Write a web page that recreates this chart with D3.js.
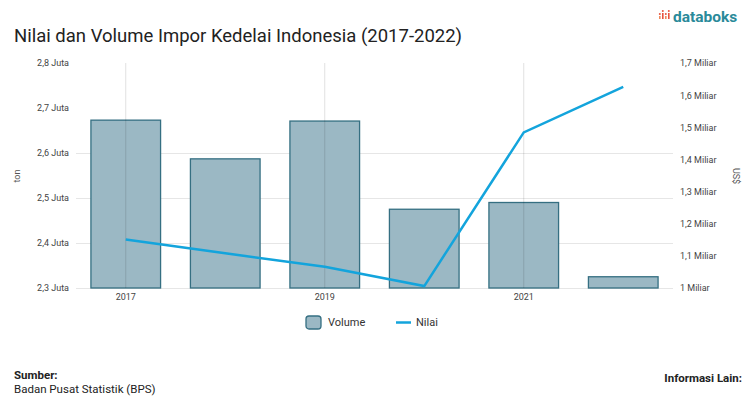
<!DOCTYPE html>
<meta charset="utf-8">
<script src="https://cdn.jsdelivr.net/npm/d3@7"></script>
<style>
body { margin: 0; background: #fff; }
text { font-family: Roboto, "Noto Sans", sans-serif; }
.tick text { fill: #444; font-size: 9px; }
</style>
<body>
<script>

// data
var years = ["2017", "2018", "2019", "2020", "2021", "2022"];
var volume = [2673000, 2587000, 2671000, 2475000, 2490000, 2325000]; // ton
var nilai = [1.151e9, 1.108e9, 1.066e9, 1.006e9, 1.484e9, 1.626e9];   // US$
var leftTicks = [2.3e6, 2.4e6, 2.5e6, 2.6e6, 2.7e6, 2.8e6];
var rightTicks = [1.0e9, 1.1e9, 1.2e9, 1.3e9, 1.4e9, 1.5e9, 1.6e9, 1.7e9];
var xLabels = ["2017", "2019", "2021"];

var width = 752,
    height = 398;

var svg = d3.select("body").append("svg")
    .attr("width", width)
    .attr("height", height);

var pLeft = 76, pRight = 673, pTop = 63, pBottom = 288;

var x = d3.scaleBand().domain(years).range([pLeft, pRight])
    .paddingInner(0.3).paddingOuter(0.15);
var yL = d3.scaleLinear().domain([2.3e6, 2.8e6]).range([pBottom, pTop]);
var yR = d3.scaleLinear().domain([1.0e9, 1.7e9]).range([pBottom, pTop]);

function fmt(v, unit) {
  var s = String(+v.toFixed(1)).replace(".", ",");
  return s + " " + unit;
}

// title
svg.append("text")
    .attr("x", 14).attr("y", 42)
    .style("font-size", "18.5px")
    .style("fill", "#222")
    .text("Nilai dan Volume Impor Kedelai Indonesia (2017-2022)");

// logo
var logo = svg.append("g").attr("transform", "translate(659,22)");
[[0, -6, 3], [3, -9, 6], [6, -6, 3], [9, -9, 6]].forEach(function(b, i) {
  logo.append("rect").attr("x", b[0]).attr("y", b[1]).attr("width", 1.6).attr("height", b[2])
      .attr("fill", i % 2 ? "#e8543f" : "#f08a5d");
  logo.append("circle").attr("cx", b[0] + 0.8).attr("cy", b[1] - 2).attr("r", 1)
      .attr("fill", "#e8543f");
});
logo.append("text")
    .attr("x", 14).attr("y", 0)
    .style("font-size", "15.5px")
    .style("font-weight", "bold")
    .style("fill", "#2a8a9a")
    .text("databoks");

// grid (horizontal)
svg.append("g").selectAll("line")
    .data(leftTicks.filter(function(d) { return d <= 2.6e6; }))
    .enter().append("line")
    .attr("x1", pLeft).attr("x2", pRight)
    .attr("y1", function(d) { return yL(d) + 0.5; })
    .attr("y2", function(d) { return yL(d) + 0.5; })
    .attr("stroke", "#e6e6e6");

// bars
svg.append("g").selectAll("rect")
    .data(volume)
    .enter().append("rect")
    .attr("x", function(d, i) { return x(years[i]); })
    .attr("y", function(d) { return yL(d); })
    .attr("width", x.bandwidth())
    .attr("height", function(d) { return pBottom - yL(d); })
    .attr("fill", "#9bb8c4")
    .attr("stroke", "#356f82")
    .attr("stroke-width", 1.3);

// grid (vertical)
svg.append("g").selectAll("line")
    .data(xLabels)
    .enter().append("line")
    .attr("x1", function(d) { return x(d) + x.bandwidth() / 2; })
    .attr("x2", function(d) { return x(d) + x.bandwidth() / 2; })
    .attr("y1", pTop).attr("y2", pBottom)
    .attr("stroke", "#000").attr("stroke-opacity", 0.12);

// line
var line = d3.line()
    .x(function(d, i) { return x(years[i]) + x.bandwidth() / 2; })
    .y(function(d) { return yR(d); });

svg.append("path")
    .datum(nilai)
    .attr("d", line)
    .attr("fill", "none")
    .attr("stroke", "#13a4dc")
    .attr("stroke-width", 2.5);

// axes
var axL = svg.append("g")
    .attr("transform", "translate(" + (pLeft - 4) + ",0)")
    .call(d3.axisLeft(yL).tickValues(leftTicks).tickSize(0)
      .tickFormat(function(d) { return fmt(d / 1e6, "Juta"); }));
axL.select(".domain").remove();

var axR = svg.append("g")
    .attr("transform", "translate(" + (pRight + 4) + ",0)")
    .call(d3.axisRight(yR).tickValues(rightTicks).tickSize(0)
      .tickFormat(function(d) { return fmt(d / 1e9, "Miliar"); }));
axR.select(".domain").remove();

var axX = svg.append("g")
    .attr("transform", "translate(0," + pBottom + ")")
    .call(d3.axisBottom(x).tickValues(xLabels).tickSize(0).tickPadding(6));
axX.select(".domain").remove();

// axis titles
svg.append("text")
    .attr("transform", "translate(20,176) rotate(-90)")
    .style("text-anchor", "middle")
    .style("font-size", "9px").style("fill", "#555")
    .text("ton");

svg.append("text")
    .attr("transform", "translate(733,176) rotate(90)")
    .style("text-anchor", "middle")
    .style("font-size", "9px").style("fill", "#555")
    .text("US$");

// legend
var lg = svg.append("g").attr("transform", "translate(306,322)");
lg.append("rect")
    .attr("x", 0).attr("y", -6).attr("width", 15).attr("height", 13).attr("rx", 3)
    .attr("fill", "#9bb8c4").attr("stroke", "#356f82").attr("stroke-width", 1.3);
lg.append("text").attr("x", 22).attr("y", 4)
    .style("font-size", "11px").style("fill", "#333").text("Volume");
lg.append("line").attr("x1", 90).attr("x2", 105).attr("y1", 0.5).attr("y2", 0.5)
    .attr("stroke", "#13a4dc").attr("stroke-width", 2.5);
lg.append("text").attr("x", 110).attr("y", 4)
    .style("font-size", "11px").style("fill", "#333").text("Nilai");

// footer
svg.append("text").attr("x", 14).attr("y", 379)
    .style("font-size", "11.5px").style("font-weight", "bold").style("fill", "#222")
    .text("Sumber:");
svg.append("text").attr("x", 14).attr("y", 393)
    .style("font-size", "11.5px").style("fill", "#222")
    .text("Badan Pusat Statistik (BPS)");
svg.append("text").attr("x", 742).attr("y", 382)
    .style("text-anchor", "end")
    .style("font-size", "11.5px").style("font-weight", "bold").style("fill", "#222")
    .text("Informasi Lain:");

</script>
</body>
